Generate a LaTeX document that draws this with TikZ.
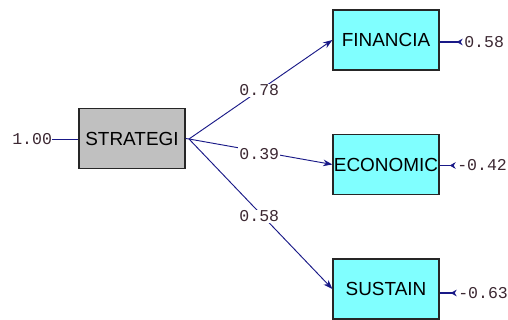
\documentclass[tikz,border=0pt]{standalone}
\usepackage{fontspec}
\setmainfont{Liberation Sans}
\newfontfamily\numfont{Liberation Mono}
\usetikzlibrary{arrows.meta}
\definecolor{pathblue}{RGB}{25,25,135}
\definecolor{boxcyan}{RGB}{128,255,255}
\definecolor{boxgray}{RGB}{192,192,192}
\definecolor{numtext}{RGB}{60,40,50}
\begin{document}
\begin{tikzpicture}[x=0.75pt,y=-0.75pt,
  var/.style={draw=black!85,line width=0.9pt,minimum width=79.5pt,minimum height=45pt,inner sep=0pt,font=\fontsize{14.2}{16}\selectfont},
  obs/.style={var,fill=boxcyan},
  lat/.style={var,fill=boxgray},
  num/.style={font=\numfont\fontsize{12.4}{14}\selectfont,text=numtext,inner sep=0pt},
  lnum/.style={num,fill=white,inner sep=1pt},
  path/.style={draw=pathblue,line width=0.7pt},
  patharrow/.style={path,-{Stealth[length=7pt,width=5pt]}},
  errarrow/.style={path,line width=1pt,-{Stealth[reversed,length=4.5pt,width=5pt]},shorten >=1pt}
]
\useasboundingbox (0,0) rectangle (508,320);
\node[lat] (strat) at (132,138.5) {STRATEGI};
\node[obs] (fin) at (386,40) {FINANCIA};
\node[obs] (eco) at (386,164.5) {ECONOMIC};
\node[obs] (sus) at (386,289) {SUSTAIN};
\coordinate (src) at (189,139);
\draw[path] (strat.east) -- (src);
\draw[patharrow] (src) -- node[lnum,pos=0.49] {0.78} (fin.west);
\draw[patharrow] (src) -- node[lnum,pos=0.49,yshift=-2pt] {0.39} (eco.west);
\draw[patharrow] (src) -- node[lnum,pos=0.49,yshift=-3pt] {0.58} (sus.west);
\node[num,anchor=west] (e0) at (12,139) {1.00};
\draw[path] (e0.east) -- (strat.west |- e0);
\node[num,anchor=west] (e1) at (464,42) {0.58};
\node[num,anchor=west] (e2) at (457,165.5) {-0.42};
\node[num,anchor=west] (e3) at (458,293) {-0.63};
\draw[errarrow] (fin.east |- e1) -- (e1.west);
\draw[errarrow] (eco.east |- e2) -- (e2.west);
\draw[errarrow] (sus.east |- e3) -- (e3.west);
\end{tikzpicture}
\end{document}
